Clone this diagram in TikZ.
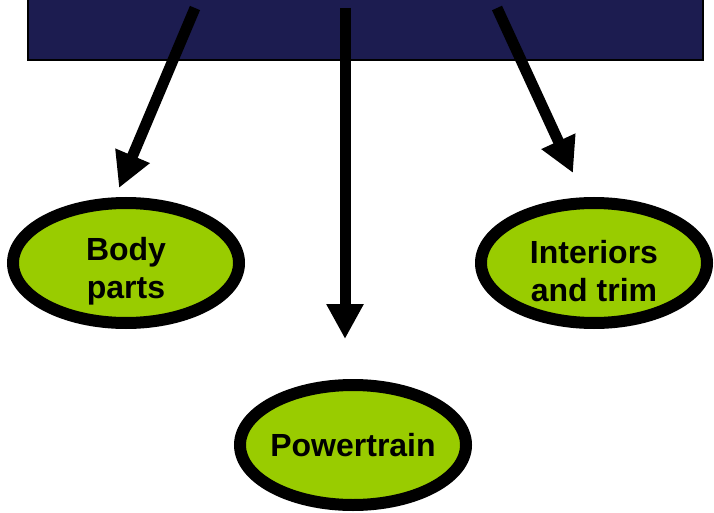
\documentclass[tikz,border=0pt]{standalone}
\usepackage{fontspec}
\setmainfont{Liberation Sans}
\usetikzlibrary{shapes.geometric,arrows.meta}
\definecolor{navy}{HTML}{1C1C50}
\definecolor{leaf}{HTML}{99CC00}
\begin{document}
\begin{tikzpicture}[x=1pt,y=-1pt,
  oval/.style={ellipse,draw=black,line width=12pt,fill=leaf,inner sep=0pt,
    minimum width=226pt,minimum height=120pt},
  txt/.style={align=center,inner sep=0pt,font=\fontsize{32}{38}\selectfont\bfseries},
  bigarrow/.style={line width=11pt,-{Triangle[width=35pt,length=35pt]}}]
\useasboundingbox (0,0) rectangle (714,513);
\node[draw=black,line width=2pt,fill=navy,minimum width=675pt,minimum height=80pt,inner sep=0pt,anchor=south west] (top) at (27,61) {};
\coordinate (s1) at (195,8);
\coordinate (s2) at (345,8);
\coordinate (s3) at (497,8);
\coordinate (t1) at (119,188);
\coordinate (t2) at (345,339);
\coordinate (t3) at (573,173);
\node[oval,label={[txt,yshift=-8pt]center:Body\\parts}] (body) at (126,263) {};
\node[oval,label={[txt,yshift=-8pt]center:Interiors\\and trim}] (inter) at (594,263) {};
\node[oval,label={[txt]center:Powertrain}] (power) at (353,445) {};
\draw[bigarrow] (s1) -- (t1);
\draw[bigarrow] (s2) -- (t2);
\draw[bigarrow] (s3) -- (t3);
\end{tikzpicture}
\end{document}
